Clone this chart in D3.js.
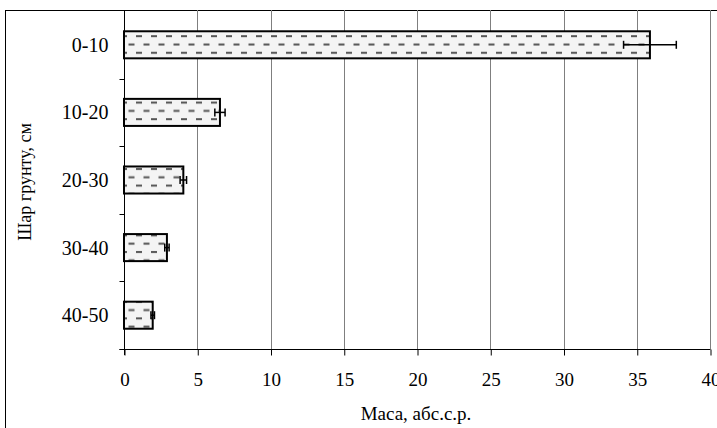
<!DOCTYPE html>
<html>
<head>
<meta charset="utf-8">
<script src="https://cdn.jsdelivr.net/npm/d3@7"></script>
<style>
  body { margin: 0; background: #fff; }
  svg text { font-family: "Liberation Serif", "Times New Roman", serif; }
</style>
</head>
<body>
<svg></svg>
<script>
// розміри
const width = 717;
const height = 428;

// дані
const layers = ["0-10", "10-20", "20-30", "30-40", "40-50"];
const mass = [35.9, 6.55, 4.05, 2.93, 1.96];
const errors = [1.8, 0.35, 0.22, 0.15, 0.12];
const xTicks = [0, 5, 10, 15, 20, 25, 30, 35, 40];

const margin = {top: 11, right: 7, bottom: 79, left: 124};

let svg = d3.select("svg")
    .attr("width", width)
    .attr("height", height);

// штриховка стовпчиків
let pat = svg.append("defs").append("pattern")
    .attr("id", "dash")
    .attr("patternUnits", "userSpaceOnUse")
    .attr("width", 15)
    .attr("height", 16.6);
pat.append("rect").attr("width", 15).attr("height", 16.6).attr("fill", "#f4f4f4");
pat.append("rect").attr("x", 1).attr("y", 2).attr("width", 6).attr("height", 2).attr("fill", "#555");
pat.append("rect").attr("x", 8.5).attr("y", 10.3).attr("width", 6).attr("height", 2).attr("fill", "#555");

// рамка
svg.append("rect")
    .attr("x", 5.5).attr("y", 10.5)
    .attr("width", 800).attr("height", 500)
    .attr("fill", "none").attr("stroke", "#000");

let x = d3.scaleLinear()
    .domain([0, 40])
    .range([margin.left, width - margin.right]);

let y = d3.scaleBand()
    .domain(layers)
    .range([margin.top, height - margin.bottom])
    .paddingInner(0.6)
    .paddingOuter(0.3);

const yBottom = height - margin.bottom;

// сітка
svg.append("g")
    .selectAll("line")
    .data(xTicks.slice(1))
    .join("line")
    .attr("x1", d => Math.round(x(d)) + 0.5)
    .attr("x2", d => Math.round(x(d)) + 0.5)
    .attr("y1", margin.top - 1)
    .attr("y2", yBottom)
    .attr("stroke", "#7f7f7f");

// вісь X
let gx = svg.append("g")
    .attr("transform", `translate(0.5, ${Math.round(yBottom) + 0.5})`)
    .call(d3.axisBottom(x).tickValues(xTicks).tickSize(6).tickPadding(17));
gx.attr("font-family", null);
gx.select(".domain").attr("stroke", "#000").attr("d", `M${x(0) - 5},0H${x(40)}`);
gx.selectAll(".tick line").attr("stroke", "#000");
gx.selectAll("text").attr("font-size", 19).attr("fill", "#000");

// вісь Y
let gy = svg.append("g")
    .attr("transform", `translate(${Math.round(x(0)) + 0.5}, 0)`);
gy.append("line")
    .attr("y1", margin.top - 1).attr("y2", yBottom + 6)
    .attr("stroke", "#000");
gy.selectAll(".sep")
    .data(layers)
    .join("line")
    .attr("class", "sep")
    .attr("x1", -5).attr("x2", 0)
    .attr("y1", d => Math.round(y(d) + y.bandwidth() / 2 + y.step() / 2) + 0.5)
    .attr("y2", d => Math.round(y(d) + y.bandwidth() / 2 + y.step() / 2) + 0.5)
    .attr("stroke", "#000");
gy.selectAll(".lab")
    .data(layers)
    .join("text")
    .attr("class", "lab")
    .attr("x", -16)
    .attr("y", d => y(d) + y.bandwidth() / 2)
    .attr("dy", "0.35em")
    .attr("text-anchor", "end")
    .attr("font-size", 20)
    .text(d => d);

// стовпчики
svg.append("g")
    .selectAll("rect")
    .data(layers)
    .join("rect")
    .attr("x", x(0))
    .attr("y", d => y(d))
    .attr("width", (d, i) => x(mass[i]) - x(0))
    .attr("height", y.bandwidth())
    .attr("fill", "url(#dash)")
    .attr("stroke", "#000")
    .attr("stroke-width", 2);

// похибки
let err = svg.append("g")
    .attr("stroke", "#000")
    .attr("stroke-width", 1.5);
layers.forEach((d, i) => {
    const cy = y(d) + y.bandwidth() / 2;
    const lo = x(mass[i] - errors[i]);
    const hi = x(mass[i] + errors[i]);
    err.append("line").attr("x1", lo).attr("x2", hi).attr("y1", cy).attr("y2", cy);
    err.append("line").attr("x1", lo).attr("x2", lo).attr("y1", cy - 4).attr("y2", cy + 4);
    err.append("line").attr("x1", hi).attr("x2", hi).attr("y1", cy - 4).attr("y2", cy + 4);
});

// підписи осей
svg.append("text")
    .attr("x", 416)
    .attr("y", 420)
    .attr("text-anchor", "middle")
    .attr("font-size", 19)
    .text("Маса, абс.с.р.");

svg.append("text")
    .attr("transform", "translate(31, 182) rotate(-90)")
    .attr("text-anchor", "middle")
    .attr("font-size", 18)
    .text("Шар грунту, см");
</script>
</body>
</html>
